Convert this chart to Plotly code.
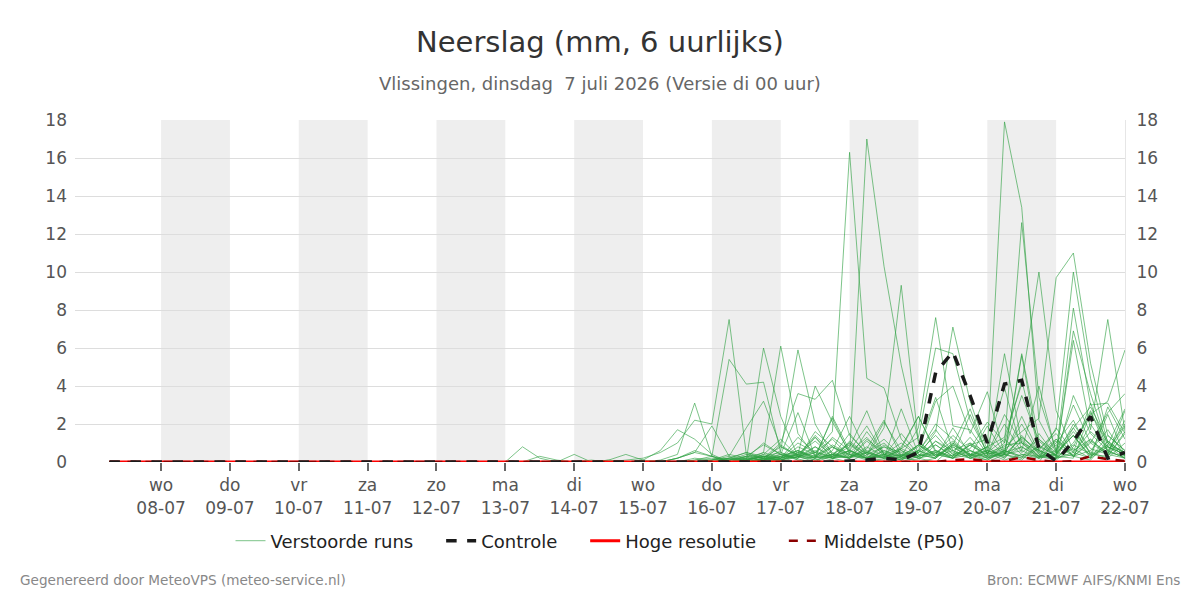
import pandas as pd
import plotly.graph_objects as go

# ---------------- data ----------------
start_time = "2026-07-07 06:00"
n_steps = 60
lead_zeros = 22  # first 22 steps (07-07 06u .. 12-07 12u) dry for all runs

members = [
    [0,0,0.8,0.2,0,0,0,0.1,0,0,0,0.2,0.5,0.3,0,0,0.4,1.2,0.3,0,0.6,2.4,0.5,0.2,0,0.3,1.1,0.6,0.2,0,0.4,1.3,0.6,0.2,0.5,1.6,0.8,0.4],
    [0,0,0,0.3,0.1,0,0.1,0,0.1,0.2,0.5,1.0,2.2,2.0,7.5,0.4,0.2,0,0.3,0.8,0.2,0,0.5,1.2,0.3,0,0.2,0.9,0.4,0.1,0.6,0.3,0,1.2,0.5,0.2,0.8,0.4],
    [0,0,0,0,0,0.4,0,0.1,0.4,0.1,0,0.2,0.6,0.3,5.4,4.1,4.2,0.5,0.1,0,0.3,0.8,2.7,0.4,0.1,0.5,2.0,1.2,0.3,0.1,0.6,0.2,1.5,0.3,0.2,2.6,1.0,0.5],
    [0,0,0,0,0,0,0,0,0,0,0.1,0.4,3.1,0.3,0,0.2,1.0,0.4,2.6,0.3,0.1,1.1,0.4,2.1,0.6,0.2,0,0.8,0.3,1.9,0.4,0.1,0.9,0.3,3.5,1.5,0.6,0.2],
    [0,0,0,0,0,0,0,0,0,0.1,0.6,1.7,1.2,0.4,0,0.3,0.1,0.9,0.3,1.4,0.5,0.2,1.6,0.4,0.1,0.9,0.3,1.0,0.4,0.2,0.6,3.5,1.1,0.3,0.7,0.2,1.4,0.6],
    [0,0,0,0,0,0,0,0,0,0,0,0.2,0.5,1.9,0.3,0.1,6.0,2.4,0.3,0.1,0.4,1.0,0.2,0,0.3,0.8,3.4,0.6,0.2,0.5,0.1,0.4,0.3,1.0,2.2,0.4,0.3,1.5],
    [0,0,0,0,0,0,0,0,0,0,0,0,0.1,0.3,0.1,0.2,0.5,6.1,1.5,0.3,2.3,0.4,0.1,0.6,0.2,0.1,0.9,0.3,2.5,0.4,0.7,1.2,0.3,0.1,0.8,2.7,0.5,2.2],
    [0,0,0,0,0,0,0,0,0,0,0,0,0,0.1,0.4,0.2,0.1,0.6,5.9,2.0,0.4,0.2,0.8,0.3,0.1,0.6,0.2,1.8,0.4,0.3,5.7,1.0,0.2,0.5,0.3,0.1,1.1,0.4],
    [0,0,0,0,0,0,0,0,0,0,0,0,0.2,0.1,0.3,1.8,3.2,0.8,0.4,4.0,2.1,0.5,0.2,0.1,0.7,2.4,0.6,0.3,1.3,0.2,0.4,0.6,4.0,0.5,1.4,0.3,0.9,2.8],
    [0,0,0,0,0,0,0,0,0,0,0,0,0,0,0.2,0.1,0.4,0.2,1.3,0.5,1.6,16.3,4.4,3.9,1.2,0.3,0.6,0.2,0.4,0.8,0.2,1.1,0.3,0.6,3.0,1.0,0.4,0.2],
    [0,0,0,0,0,0,0,0,0,0,0,0,0,0,0,0.1,0.3,0.1,0.5,0.2,0.8,0.4,17.0,10.3,5.1,1.1,0.3,0.8,0.2,0.5,1.2,0.4,0.2,0.9,0.3,2.0,0.6,0.2],
    [0,0,0,0,0,0,0,0,0,0,0,0,0,0.1,0.2,0.5,0.2,1.0,3.6,3.3,4.3,1.4,0.5,0.2,0.8,2.4,0.5,0.2,0.6,0.3,1.0,4.3,0.6,0.2,0.4,1.2,0.3,1.6],
    [0,0,0,0,0,0,0,0,0,0,0,0,0,0,0.1,0.2,0.1,0.3,0.6,0.2,0.4,0.9,0.3,1.8,9.3,1.0,0.4,0.2,0.9,0.3,0.5,2.0,0.4,1.1,0.3,0.6,1.7,0.3],
    [0,0,0,0,0,0,0,0,0,0,0,0,0,0,0,0.1,0.3,0.5,0.2,1.3,0.4,0.2,1.2,0.5,0.3,1.8,7.6,1.9,1.7,0.4,2.0,0.5,1.2,0.3,6.9,3.6,0.8,0.4],
    [0,0,0,0,0,0,0,0,0,0,0,0,0,0,0.1,0.3,0.2,0.1,0.4,1.1,0.3,0.6,0.2,0.4,1.0,0.3,1.6,7.1,3.2,0.6,0.2,1.4,0.4,0.2,0.9,0.4,2.5,0.3],
    [0,0,0,0,0,0,0,0,0,0,0,0,0,0,0,0,0.2,0.4,0.1,0.3,0.8,0.2,0.5,0.3,0.2,0.6,0.3,0.9,0.4,0.6,17.9,13.4,2.2,0.5,1.4,0.3,0.8,0.2],
    [0,0,0,0,0,0,0,0,0,0,0,0,0,0,0,0.1,0.3,0.2,0.6,0.3,0.2,1.0,0.4,0.8,0.3,0.5,1.4,0.4,0.7,2.1,1.0,12.6,3.4,0.6,1.8,0.4,0.9,0.5],
    [0,0,0,0,0,0,0,0,0,0,0,0,0,0,0,0,0.1,0.4,0.2,0.5,1.2,0.3,0.6,0.2,0.4,0.2,0.5,1.1,0.3,0.8,1.3,4.1,10.0,2.7,0.6,1.2,0.4,1.9],
    [0,0,0,0,0,0,0,0,0,0,0,0,0,0,0,0,0,0.2,0.5,0.3,0.9,0.4,0.2,0.6,0.3,0.9,0.4,0.2,1.0,0.5,0.8,1.6,2.3,9.7,11.0,5.2,1.4,0.6],
    [0,0,0,0,0,0,0,0,0,0,0,0,0,0,0,0,0.1,0.3,0.2,0.8,0.3,1.5,0.4,0.2,0.7,0.3,0.5,0.3,0.9,0.4,2.5,1.0,0.6,1.7,10.0,4.4,1.0,0.3],
    [0,0,0,0,0,0,0,0,0,0,0,0,0,0,0,0,0.2,0.1,0.4,0.2,1.3,0.6,0.2,0.3,1.5,0.4,0.2,1.0,0.3,0.6,0.4,5.7,1.2,0.5,8.1,3.0,3.1,1.5],
    [0,0,0,0,0,0,0,0,0,0,0,0,0,0,0,0,0.1,0.3,0.6,0.2,0.4,0.2,1.1,0.4,0.2,0.5,0.9,0.3,0.6,0.2,0.5,0.8,0.3,0.4,6.4,1.7,7.5,1.6],
    [0,0,0,0,0,0,0,0,0,0,0,0,0,0,0,0,0,0.1,0.3,0.5,0.2,0.4,0.2,0.8,0.5,0.2,1.1,0.4,0.2,0.6,0.3,1.3,0.5,0.2,1.0,2.5,3.2,5.9],
    [0,0,0,0,0,0,0,0,0,0,0,0,0,0,0,0,0.1,0.2,0.4,0.1,0.3,0.6,0.2,0.4,0.7,1.3,6.0,5.7,2.2,0.5,0.3,0.8,0.2,0.4,1.6,0.5,0.2,1.0],
    [0,0,0,0,0,0,0,0,0,0,0,0,0,0,0,0,0.2,0.1,0.3,0.6,0.2,0.3,0.5,1.0,0.2,0.6,3.2,4.0,1.5,3.7,0.4,5.6,0.6,0.3,2.0,0.7,0.4,2.7],
    [0,0,0,0,0,0,0,0,0,0,0,0,0,0.1,0.2,0.5,0.3,0.1,0.8,0.4,0.2,0.5,1.3,0.3,0.6,0.2,0.4,1.4,0.6,0.2,0.9,1.0,0.3,0.2,1.8,2.9,1.1,0.4],
    [0,0,0,0,0,0,0,0,0,0,0,0,0.1,0.2,0.1,0.3,0.9,0.4,0.2,1.6,0.8,0.3,0.2,0.9,0.4,0.3,0.6,0.2,0.9,1.2,0.4,0.2,0.7,1.5,0.3,1.0,2.6,3.6],
    [0,0,0,0,0,0,0,0,0,0,0,0,0,0,0.1,0.4,0.2,0.8,0.3,0.2,2.4,0.6,1.9,0.4,0.3,0.9,0.3,0.6,1.0,0.3,0.4,2.4,0.5,1.2,0.3,1.1,0.5,0.3],
    [0,0,0,0,0,0,0,0,0,0,0,0,0,0,0,0.1,0.3,0.2,1.0,0.5,0.3,0.2,0.7,2.2,0.3,0.6,1.7,0.5,0.3,0.8,3.9,0.6,0.2,1.8,0.5,3.1,0.6,2.0],
    [0,0,0,0,0,0,0,0,0,0,0,0,0,0,0.2,0.1,0.5,0.2,0.4,1.3,0.2,0.6,0.3,0.2,2.8,0.4,0.2,0.9,2.8,0.4,0.6,0.3,0.8,0.4,1.4,0.2,2.9,1.2],
]

controle = [0,0,0,0,0,0,0,0,0,0,0,0,0,0,0,0,0,0,0,0,0,0.05,0.1,0.2,0.1,0.5,4.7,5.8,3.5,1.0,4.1,4.3,0.7,0.05,1.1,2.4,0.2,0.5]
p50 = [0,0,0,0,0,0,0,0,0,0,0,0,0,0,0,0,0,0,0,0,0,0,0,0,0,0,0,0.1,0.15,0.05,0.05,0.25,0.1,0,0.05,0.3,0.15,0.05]
hoge_resolutie = [0] * n_steps

tick_days = ["2026-07-08","2026-07-09","2026-07-10","2026-07-11","2026-07-12","2026-07-13","2026-07-14",
             "2026-07-15","2026-07-16","2026-07-17","2026-07-18","2026-07-19","2026-07-20","2026-07-21","2026-07-22"]
tick_labels = ["wo<br>08-07","do<br>09-07","vr<br>10-07","za<br>11-07","zo<br>12-07","ma<br>13-07","di<br>14-07",
               "wo<br>15-07","do<br>16-07","vr<br>17-07","za<br>18-07","zo<br>19-07","ma<br>20-07","di<br>21-07","wo<br>22-07"]
shaded_days = ["2026-07-08","2026-07-10","2026-07-12","2026-07-14","2026-07-16","2026-07-18","2026-07-20"]

# ---------------- figure ----------------
times = pd.date_range(start_time, periods=n_steps, freq="6h")
font = "DejaVu Sans"
gap = "\u00a0" * 4
fig = go.Figure()

for k, m in enumerate(members):
    vals = [0] * lead_zeros + m
    fig.add_trace(go.Scatter(
        x=times, y=vals, mode="lines", name="Verstoorde runs" + gap,
        legendgroup="ens", showlegend=(k == 0), legendrank=1,
        line=dict(color="rgba(45,160,65,0.62)", width=1),
        hoverinfo="skip"))

fig.add_trace(go.Scatter(x=times, y=hoge_resolutie, mode="lines", name="Hoge resolutie" + gap,
                         line=dict(color="#ff0000", width=3), legendrank=3))
fig.add_trace(go.Scatter(x=times, y=[0] * lead_zeros + p50, mode="lines", name="Middelste (P50)",
                         line=dict(color="#8b0000", width=2.5, dash="dash"), legendrank=4))
fig.add_trace(go.Scatter(x=times, y=[0] * lead_zeros + controle, mode="lines", name="Controle" + gap,
                         line=dict(color="#1a1a1a", width=3.5, dash="dash"), legendrank=2))
# dummy trace for the right axis
fig.add_trace(go.Scatter(x=[times[0]], y=[0], yaxis="y2", mode="markers",
                         marker=dict(opacity=0), showlegend=False, hoverinfo="skip"))

shapes = []
for d in shaded_days:
    d0 = pd.Timestamp(d)
    shapes.append(dict(type="rect", xref="x", yref="paper", x0=d0, x1=d0 + pd.Timedelta(days=1),
                       y0=0, y1=1, fillcolor="#eeeeee", line=dict(width=0), layer="below"))

axis_font = dict(family=font, size=17, color="#555555")
fig.update_layout(
    width=1200, height=600,
    margin=dict(l=75, r=75, t=120, b=138),
    paper_bgcolor="white", plot_bgcolor="white",
    font=dict(family=font),
    shapes=shapes,
    showlegend=True,
    legend=dict(orientation="h", x=0.5, xanchor="center", y=-0.231, yanchor="middle",
                font=dict(family=font, size=18, color="#222222"),
                traceorder="normal"),
    xaxis=dict(type="date", range=[pd.Timestamp("2026-07-06 18:00"), pd.Timestamp("2026-07-22 00:00")],
               tickmode="array", tickvals=[pd.Timestamp(d) for d in tick_days], ticktext=tick_labels,
               ticks="outside", ticklen=8, tickwidth=2, tickcolor="#666666",
               showgrid=False, zeroline=False, showline=False, tickfont=axis_font),
    yaxis=dict(range=[0, 18], dtick=2, showgrid=True, gridcolor="#dddddd", gridwidth=1,
               zeroline=False, showline=False, tickfont=axis_font, ticks="", ticklabelstandoff=7),
    yaxis2=dict(range=[0, 18], dtick=2, overlaying="y", side="right", showgrid=False,
                zeroline=False, showline=True, linecolor="#e6e6e6", linewidth=1,
                tickfont=axis_font, ticks="", ticklabelstandoff=7),
    annotations=[
        dict(text="Neerslag (mm, 6 uurlijks)", xref="paper", yref="paper", x=0.5, y=(462 - 42) / 342,
             xanchor="center", yanchor="middle", showarrow=False,
             font=dict(family=font, size=29, color="#333333")),
        dict(text="Vlissingen, dinsdag  7 juli 2026 (Versie di 00 uur)", xref="paper", yref="paper",
             x=0.5, y=(462 - 83) / 342, xanchor="center", yanchor="middle", showarrow=False,
             font=dict(family=font, size=18, color="#666666")),
        dict(text="Gegenereerd door MeteoVPS (meteo-service.nl)", xref="paper", yref="paper",
             x=(18 - 75) / 1050, y=-(580 - 462) / 342, xanchor="left", yanchor="middle", showarrow=False,
             font=dict(family=font, size=13.6, color="#888888")),
        dict(text="Bron: ECMWF AIFS/KNMI Ens", xref="paper", yref="paper",
             x=(1182 - 75) / 1050, y=-(580 - 462) / 342, xanchor="right", yanchor="middle", showarrow=False,
             font=dict(family=font, size=13.6, color="#888888")),
    ],
)

fig.write_html("out.html")
